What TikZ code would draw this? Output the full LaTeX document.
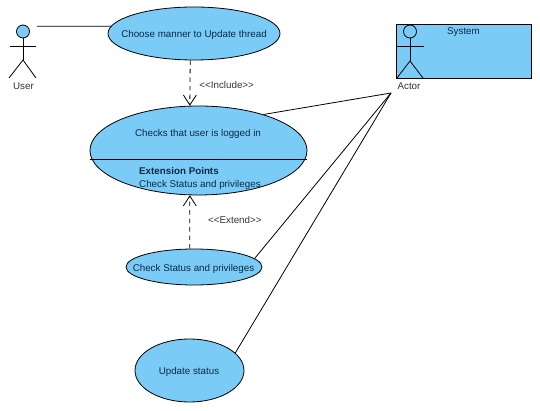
\documentclass[tikz,border=0pt]{standalone}
\usepackage{fontspec}
\setmainfont{Liberation Sans}
\usetikzlibrary{positioning, shapes.geometric, arrows.meta}
\definecolor{usecasefill}{HTML}{7ACBF5}
\definecolor{usecasetext}{HTML}{0B2A4A}
\tikzset{
    usecase/.style={ellipse, draw=black, fill=usecasefill, inner sep=0pt, line width=0.8pt},
    casetext/.style={text=usecasetext, inner sep=0pt, font=\fontsize{9.8}{11}\selectfont},
    plaintext/.style={text=black!80, inner sep=0pt, font=\fontsize{9.8}{11}\selectfont},
    headnode/.style={circle, draw=black, inner sep=0pt, minimum size=13pt, line width=0.8pt},
    openarrow/.style={dash pattern=on 4.5pt off 4pt, -{Straight Barb[length=10pt, width=13pt]}, line width=0.8pt},
    assoc/.style={line width=0.8pt}
}
\begin{document}
\begin{tikzpicture}[x=1pt, y=-1pt]
        \useasboundingbox (0, 0) rectangle (540, 411);

        \node [usecase, minimum width=172pt, minimum height=53pt] (CM) at (194, 33.5) {};
        \node [usecase, minimum width=217pt, minimum height=89pt] (CL) at (198.5, 150.5) {};
        \node [usecase, minimum width=136pt, minimum height=36pt] (CS) at (194, 267) {};
        \node [usecase, minimum width=109pt, minimum height=63pt] (US) at (189.5, 370.5) {};

        \node [casetext] (CMtext) at (194, 34.5) {Choose manner to Update thread};
        \node [casetext] (CLtext) at (198, 133.5) {Checks that user is logged in};
        \node [casetext, anchor=west] (EPtext) at (139, 171) {\textbf{Extension Points}};
        \node [casetext, anchor=west] (CPtext) at (139, 185) {Check Status and privileges};
        \node [casetext] (CStext) at (193.5, 268.5) {Check Status and privileges};
        \node [casetext] (UStext) at (189, 371.5) {Update status};

        \draw [assoc] (CL.west |- 0, 159) -- (CL.east |- 0, 159);

        \node [draw=black, fill=usecasefill, line width=0.8pt, minimum width=135pt, minimum height=54pt, inner sep=0pt] (SYS) at (463.5, 51) {};
        \node [casetext] (SYStext) at (463.5, 32.5) {System};

        \node [headnode, fill=usecasefill] (UH) at (23, 31.5) {};
        \coordinate (UB) at (23, 60);
        \coordinate (UL) at (37, 26.3);
        \draw [assoc] (UH) -- (UB);
        \draw [assoc] (10, 46) -- (36, 46);
        \draw [assoc] (9, 78) -- (UB) -- (36, 78);
        \node [plaintext] (User) at (23.5, 86) {User};

        \node [headnode] (AH) at (410, 31.5) {};
        \coordinate (AB) at (410, 61);
        \coordinate (AL) at (391, 93);
        \draw [assoc] (AH) -- (AB);
        \draw [assoc] (396, 46) -- (424, 46);
        \draw [assoc] (397, 78) -- (AB) -- (423, 78);
        \node [plaintext] (Actor) at (409, 86) {Actor};

        \draw [assoc] (UL) -- (CM.175);
        \draw [assoc] (AL) -- (CL.29);
        \draw [assoc] (AL) -- (CS.8);
        \draw [assoc] (AL) -- (US.21);

        \draw [openarrow] (CM.262) -- (CL.101) node [plaintext, midway, right=9pt, yshift=-2pt] (INC) {<{}<Include>{}>};
        \draw [openarrow] (CS.103) -- (CL.259) node [plaintext, pos=0.45, right=18pt, yshift=5pt] (EXT) {<{}<Extend>{}>};
    \end{tikzpicture}
\end{document}
